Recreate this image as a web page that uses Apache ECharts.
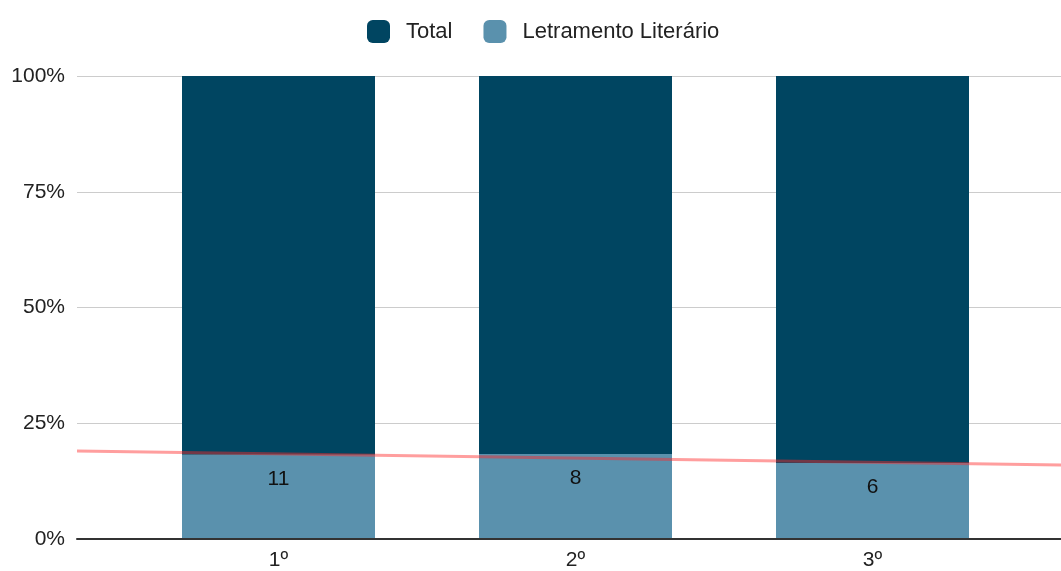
<!DOCTYPE html>
<html>
<head>
<meta charset="utf-8">
<script src="https://cdn.jsdelivr.net/npm/echarts@6/dist/echarts.min.js"></script>
<style>
  html, body { margin: 0; padding: 0; background: #fff; }
  #main { width: 1061px; height: 571px; }
</style>
</head>
<body>
<div id="main"></div>
<script>
    // values
    var categories = ['1º', '2º', '3º'];
    var letramento = [11, 8, 6];
    var total = [50, 36, 31];

    var chartDom = document.getElementById('main');
    var myChart = echarts.init(chartDom);

    // 100% stacked shares
    var letPct = letramento.map(function (v, i) { return v / (v + total[i]); });
    var totPct = total.map(function (v, i) { return v / (letramento[i] + v); });

    // linear trendline over the Letramento shares
    function trend(values) {
        var n = values.length, sx = 0, sy = 0, sxy = 0, sxx = 0;
        values.forEach(function (y, x) { sx += x; sy += y; sxy += x * y; sxx += x * x; });
        var slope = (n * sxy - sx * sy) / (n * sxx - sx * sx);
        return { slope: slope, icpt: (sy - slope * sx) / n };
    }
    var tl = trend(letPct);
    // outer frame reaches past the bar slots (in category units)
    var xMin = -0.68, xMax = 2.64;

    var font = '"Liberation Sans", Arial, sans-serif';

    var option = {
        animation: false,
        textStyle: { fontFamily: font },
        legend: {
            top: 15,
            left: 362,
            itemWidth: 23,
            itemHeight: 23,
            itemGap: 31,
            icon: 'roundRect',
            data: ['Total', 'Letramento Literário'],
            textStyle: { fontSize: 22, color: '#222', padding: [0, 0, 0, 11], fontFamily: font }
        },
        grid: [
            { left: 77, right: 0, top: 76, bottom: 32 },
            { left: 130, right: 40, top: 76, bottom: 32 }
        ],
        xAxis: [
            {
                type: 'value',
                gridIndex: 0,
                min: xMin,
                max: xMax,
                splitLine: { show: false },
                axisTick: { show: false },
                axisLabel: { show: false },
                axisLine: { show: true, onZero: false, lineStyle: { color: '#333', width: 2 } }
            },
            {
                type: 'category',
                gridIndex: 1,
                data: categories,
                axisLine: { show: false },
                axisTick: { show: false },
                axisLabel: { fontSize: 21, color: '#222', margin: 12, fontFamily: font }
            }
        ],
        yAxis: [
            {
                type: 'value',
                gridIndex: 0,
                min: 0,
                max: 1,
                interval: 0.25,
                axisLine: { show: false },
                axisTick: { show: false },
                splitLine: { lineStyle: { color: '#cccccc', width: 1 } },
                axisLabel: {
                    fontSize: 21,
                    color: '#222',
                    margin: 12,
                    fontFamily: font,
                    formatter: function (v) { return Math.round(v * 100) + '%'; }
                }
            },
            {
                type: 'value',
                gridIndex: 1,
                min: 0,
                max: 1,
                show: false
            }
        ],
        series: [
            {
                name: 'Letramento Literário',
                type: 'bar',
                stack: 'a',
                xAxisIndex: 1,
                yAxisIndex: 1,
                barWidth: 193,
                itemStyle: { color: '#5a91ad' },
                label: {
                    show: true,
                    position: 'insideTop',
                    distance: 14,
                    fontSize: 21,
                    color: '#111',
                    fontFamily: font,
                    formatter: function (p) { return letramento[p.dataIndex]; }
                },
                data: letPct
            },
            {
                name: 'Total',
                type: 'bar',
                stack: 'a',
                xAxisIndex: 1,
                yAxisIndex: 1,
                barWidth: 193,
                itemStyle: { color: '#004561' },
                data: totPct
            },
            {
                name: 'trend',
                type: 'line',
                xAxisIndex: 0,
                yAxisIndex: 0,
                symbol: 'none',
                silent: true,
                z: 5,
                lineStyle: { color: 'rgba(255, 40, 40, 0.45)', width: 3 },
                data: [[xMin, tl.icpt + tl.slope * xMin], [xMax, tl.icpt + tl.slope * xMax]]
            }
        ]
    };

    myChart.setOption(option);
</script>
</body>
</html>
